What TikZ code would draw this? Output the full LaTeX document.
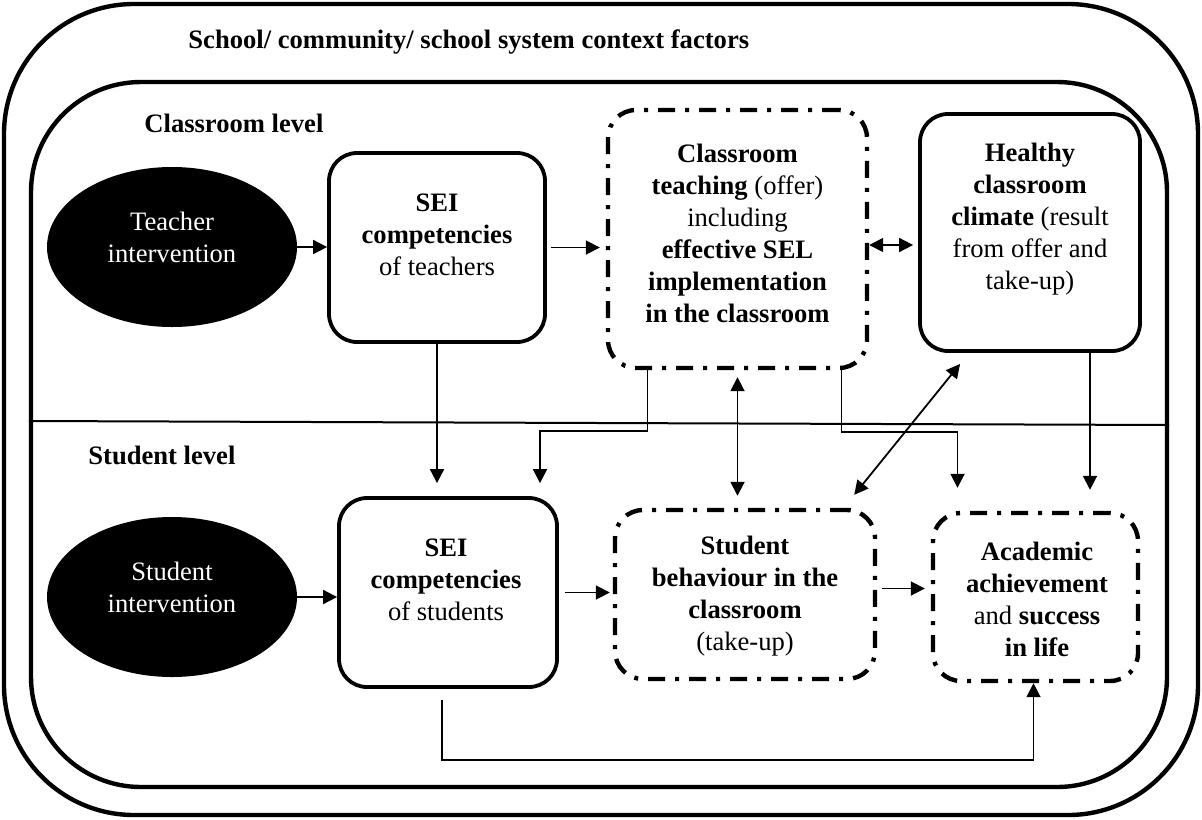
\documentclass[tikz,border=0pt]{standalone}
\usepackage{fontspec}
\setmainfont{Liberation Serif}
\usetikzlibrary{shapes.geometric, arrows.meta}

\begin{document}
\begin{tikzpicture}[
	  x=0.5pt, y=-0.5pt,
	  framebox/.style={rectangle, rounded corners=#1, draw=black, line width=2.2pt, inner sep=0pt},
	  heading/.style={font=\fontsize{13.3}{16}\selectfont\bfseries, inner sep=0pt},
	  txt/.style={align=center, font=\fontsize{13.3}{16}\selectfont, inner sep=0pt},
	  solidbox/.style={rectangle, rounded corners=14pt, draw=black, line width=1.9pt, fill=white, inner sep=0pt},
	  dashbox/.style={rectangle, rounded corners=14pt, draw=black, line width=2.2pt, dash pattern=on 8.5pt off 5pt on 2pt off 5pt, inner sep=0pt},
	  blob/.style={ellipse, fill=black, minimum width=125pt, minimum height=80pt, inner sep=0pt},
	  arrow/.style={line width=0.9pt, -{Triangle[length=7pt, width=7pt]}},
	  dblarrow/.style={line width=0.9pt, {Triangle[length=7pt, width=7pt]}-{Triangle[length=7pt, width=7pt]}}
	]
	\useasboundingbox (0,0) rectangle (1202,819);

	% frames and level headings
	\node (context) [framebox=65pt, minimum width=597pt, minimum height=405.5pt] at (601,409.5) {};
	\node (levels) [framebox=55pt, minimum width=568pt, minimum height=352.5pt] at (599,434.5) {};
	\node (contexthead) [heading, anchor=west] at (188,42) {School/ community/ school system context factors};
	\node (classhead) [heading, anchor=west] at (144,123) {Classroom level};
	\node (studhead) [heading, anchor=west] at (88,455) {Student level};
	\draw [line width=1pt] ([yshift=6.75pt]levels.west) -- ([yshift=4.75pt]levels.east);

	% classroom level
	\node (tint) [blob] at (172,247) {};
	\node (tinttxt) [txt, text=white] at ([yshift=4.75pt]tint.center) {Teacher\\intervention};
	\node (seit) [solidbox, minimum width=108pt, minimum height=94.5pt] at (437,247.5) {};
	\node (seittxt) [txt] at ([yshift=6.25pt]seit.center) {\textbf{SEI}\\\textbf{competencies}\\of teachers};
	\node (teach) [dashbox, minimum width=129.5pt, minimum height=129pt] at (737.5,239) {};
	\node (teachtxt) [txt] at ([yshift=3pt]teach.center) {\textbf{Classroom}\\\textbf{teaching} (offer)\\including\\\textbf{effective SEL}\\\textbf{implementation}\\\textbf{in the classroom}};
	\node (climate) [solidbox, minimum width=110pt, minimum height=118.5pt] at (1030,232.5) {};
	\node (climatetxt) [txt] at ([yshift=6.75pt]climate.center) {\textbf{Healthy}\\\textbf{classroom}\\\textbf{climate} (result\\from offer and\\take-up)};

	% student level
	\node (sint) [blob] at (172,597) {};
	\node (sinttxt) [txt, text=white] at ([yshift=4.75pt]sint.center) {Student\\intervention};
	\node (seis) [solidbox, minimum width=109pt, minimum height=94.5pt] at (448,592.5) {};
	\node (seistxt) [txt] at ([xshift=-1pt,yshift=6.25pt]seis.center) {\textbf{SEI}\\\textbf{competencies}\\of students};
	\node (behav) [dashbox, minimum width=130pt, minimum height=84.5pt] at (745,594.5) {};
	\node (behavtxt) [txt] at ([yshift=-1pt]behav.center) {\textbf{Student}\\\textbf{behaviour in the}\\\textbf{classroom}\\(take-up)};
	\node (achieve) [dashbox, minimum width=102.5pt, minimum height=84pt] at (1035.5,597) {};
	\node (achievetxt) [txt] at ([xshift=0.75pt,yshift=-1pt]achieve.center) {\textbf{Academic}\\\textbf{achievement}\\and \textbf{success}\\\textbf{in life}};

	% connectors
	\draw [arrow] (tint.east) -- (tint.east -| seit.west);
	\draw [arrow, shorten <=2pt, shorten >=3pt] (seit.east) -- (seit.east -| teach.west);
	\draw [dblarrow, shorten >=2.5pt] ([yshift=-3pt]teach.east) -- ([yshift=-3pt]teach.east -| climate.west);
	\draw [arrow, shorten >=6.5pt] (seit.south) -- (seit.south |- seis.north);
	\draw [arrow, shorten >=6.5pt] ([xshift=-45pt]teach.south) -- ++(0,61) -| ([xshift=46pt]seis.north);
	\draw [dblarrow, shorten <=3.5pt, shorten >=6pt] (teach.south) -- (teach.south |- behav.north);
	\draw [arrow, shorten >=11.5pt] ([xshift=52pt]teach.south) -- ++(0,62) -| ([xshift=-39pt]achieve.north);
	\draw [dblarrow] ([xshift=-11.5pt,yshift=6.5pt]behav.north east) -- ([xshift=21pt,yshift=-5.5pt]climate.south west);
	\draw [arrow, shorten >=10.5pt] ([xshift=30pt]climate.south) -- ([xshift=30pt]climate.south |- achieve.north);
	\draw [arrow] (sint.east) -- (sint.east -| seis.west);
	\draw [arrow, shorten <=3pt, shorten >=1.5pt] (seis.east) -- (seis.east -| behav.west);
	\draw [arrow, shorten <=2.5pt, shorten >=3pt] ([yshift=3pt]behav.east) -- ([yshift=3pt]behav.east -| achieve.west);
	\draw [arrow, shorten <=5.5pt] ([xshift=-3pt]seis.south) -- ++(0,71) -| ([xshift=-1pt]achieve.south);

\end{tikzpicture}
\end{document}
